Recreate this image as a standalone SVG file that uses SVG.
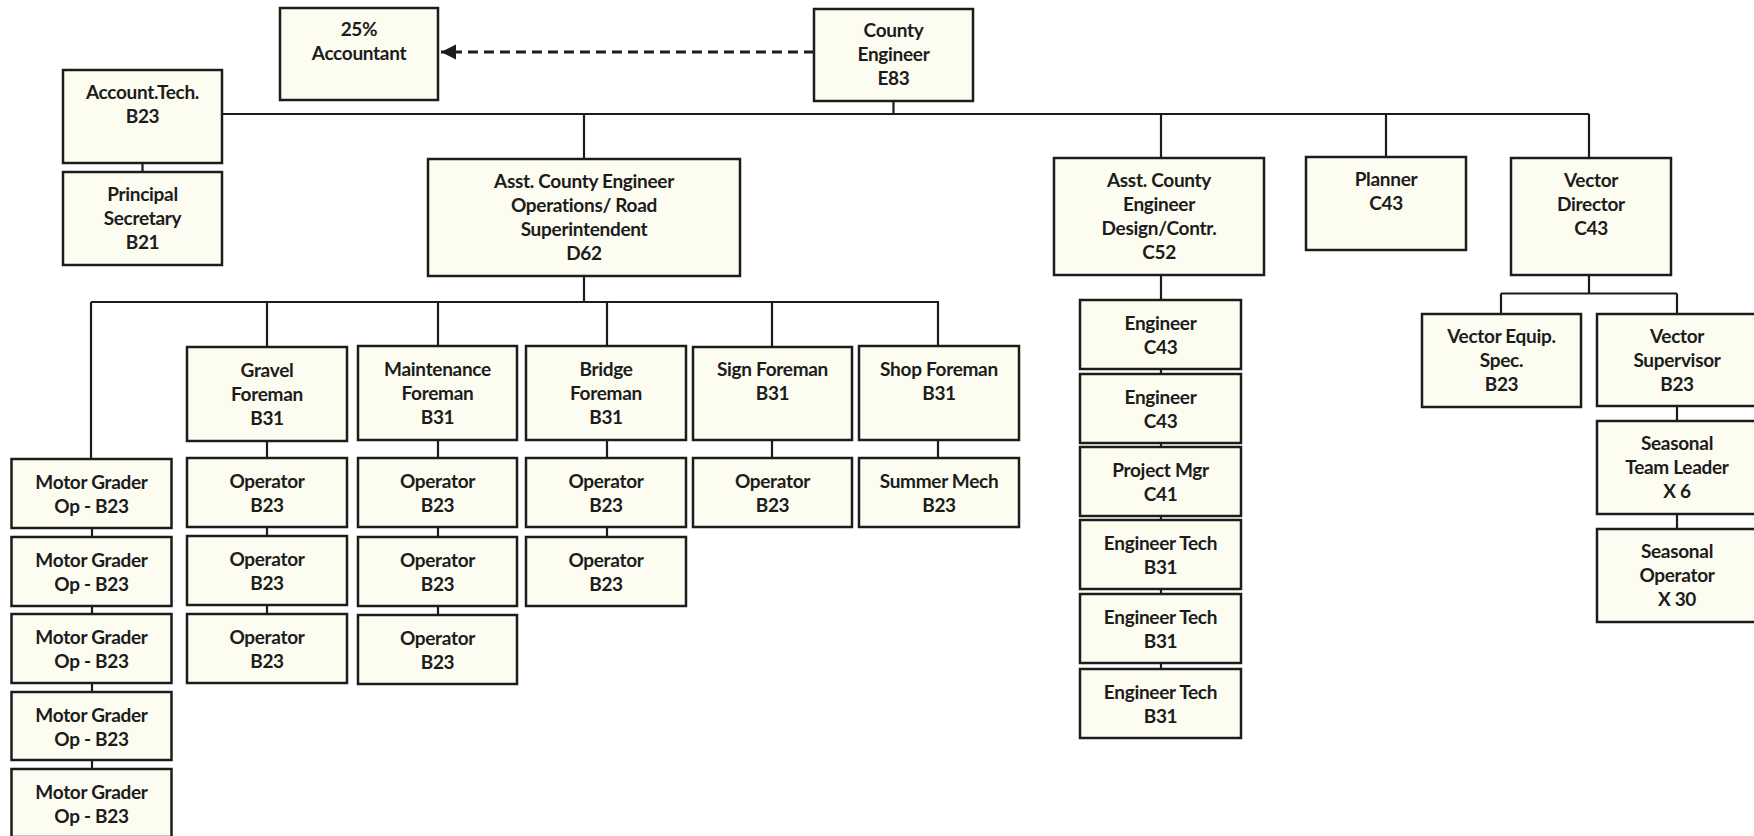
<svg xmlns="http://www.w3.org/2000/svg" width="1754" height="836" viewBox="0 0 1754 836">
<style>
.box{fill:#FCFCF1;stroke:#1c1c1c;stroke-width:2.5}
.t{font-family:Lato,"Liberation Sans",sans-serif;font-weight:bold;font-size:19px;letter-spacing:-0.3px;text-anchor:middle;fill:#1c1c1c}
.ln{fill:none;stroke:#1c1c1c;stroke-width:2.2}
.dash{fill:none;stroke:#1c1c1c;stroke-width:3;stroke-dasharray:10 6}
</style>
<defs>
<marker id="ah" viewBox="0 0 10 10" refX="10" refY="5" markerWidth="5" markerHeight="5.4" orient="auto" markerUnits="strokeWidth">
<path d="M0 0L10 5L0 10Z" fill="#1c1c1c"/>
</marker>
</defs>
<rect width="1754" height="836" fill="#ffffff"/>
<g id="connectors">
<path class="ln" d="M893.5 101V114M222 114H1589M584 114V159M1161 114V158M1386 114V157M1589 114V158"/>
<path class="ln" d="M142.5 163V172"/>
<path class="dash" d="M814 52H441" marker-end="url(#ah)"/>
<path class="ln" d="M584 276V302M91 302H939M91 302V459M267 302V347M438 302V346M607 302V346M772 302V347M938 302V346"/>
<path class="ln" d="M92 528V537M92 606V614M92 683V692M92 760V769"/>
<path class="ln" d="M267 441V458M267 527V536M267 605V614"/>
<path class="ln" d="M438 440V458M438 527V537M438 606V615"/>
<path class="ln" d="M607 440V458M607 527V537"/>
<path class="ln" d="M772 440V458M938 440V458"/>
<path class="ln" d="M1161 275V300M1161 369V374M1161 443V447M1161 516V520M1161 589V594M1161 663V669"/>
<path class="ln" d="M1589 275V293.5M1501 293.5H1677M1501 293.5V314M1677 293.5V314M1677 406V421M1677 514V529"/>
</g>
<g id="county-engineer"><rect class="box" x="814" y="9" width="159" height="92"/><text class="t" x="893.5" y="37">County</text><text class="t" x="893.5" y="61">Engineer</text><text class="t" x="893.5" y="85">E83</text></g>
<g id="accountant"><rect class="box" x="280" y="8" width="158" height="92"/><text class="t" x="359" y="36">25%</text><text class="t" x="359" y="60">Accountant</text></g>
<g id="account-tech"><rect class="box" x="63" y="70" width="159" height="93"/><text class="t" x="142.5" y="99">Account.Tech.</text><text class="t" x="142.5" y="123">B23</text></g>
<g id="principal-secretary"><rect class="box" x="63" y="172" width="159" height="93"/><text class="t" x="142.5" y="201">Principal</text><text class="t" x="142.5" y="225">Secretary</text><text class="t" x="142.5" y="249">B21</text></g>
<g id="asst-ops"><rect class="box" x="428" y="159" width="312" height="117"/><text class="t" x="584" y="188">Asst. County Engineer</text><text class="t" x="584" y="212">Operations/ Road</text><text class="t" x="584" y="236">Superintendent</text><text class="t" x="584" y="260">D62</text></g>
<g id="asst-design"><rect class="box" x="1054" y="158" width="210" height="117"/><text class="t" x="1159" y="187">Asst. County</text><text class="t" x="1159" y="211">Engineer</text><text class="t" x="1159" y="235">Design/Contr.</text><text class="t" x="1159" y="259">C52</text></g>
<g id="planner"><rect class="box" x="1306" y="157" width="160" height="93"/><text class="t" x="1386" y="186">Planner</text><text class="t" x="1386" y="210">C43</text></g>
<g id="vector-director"><rect class="box" x="1511" y="158" width="160" height="117"/><text class="t" x="1591" y="187">Vector</text><text class="t" x="1591" y="211">Director</text><text class="t" x="1591" y="235">C43</text></g>
<g id="mg1"><rect class="box" x="11.5" y="459" width="160" height="69"/><text class="t" x="91.5" y="489">Motor Grader</text><text class="t" x="91.5" y="513">Op - B23</text></g>
<g id="mg2"><rect class="box" x="11.5" y="537" width="160" height="69"/><text class="t" x="91.5" y="567">Motor Grader</text><text class="t" x="91.5" y="591">Op - B23</text></g>
<g id="mg3"><rect class="box" x="11.5" y="614" width="160" height="69"/><text class="t" x="91.5" y="644">Motor Grader</text><text class="t" x="91.5" y="668">Op - B23</text></g>
<g id="mg4"><rect class="box" x="11.5" y="692" width="160" height="68"/><text class="t" x="91.5" y="722">Motor Grader</text><text class="t" x="91.5" y="746">Op - B23</text></g>
<g id="mg5"><rect class="box" x="11.5" y="769" width="160" height="68"/><text class="t" x="91.5" y="799">Motor Grader</text><text class="t" x="91.5" y="823">Op - B23</text></g>
<g id="gravel-foreman"><rect class="box" x="187" y="347" width="160" height="94"/><text class="t" x="267" y="377">Gravel</text><text class="t" x="267" y="401">Foreman</text><text class="t" x="267" y="425">B31</text></g>
<g id="gravel-op1"><rect class="box" x="187" y="458" width="160" height="69"/><text class="t" x="267" y="488">Operator</text><text class="t" x="267" y="512">B23</text></g>
<g id="gravel-op2"><rect class="box" x="187" y="536" width="160" height="69"/><text class="t" x="267" y="566">Operator</text><text class="t" x="267" y="590">B23</text></g>
<g id="gravel-op3"><rect class="box" x="187" y="614" width="160" height="69"/><text class="t" x="267" y="644">Operator</text><text class="t" x="267" y="668">B23</text></g>
<g id="maintenance-foreman"><rect class="box" x="358" y="346" width="159" height="94"/><text class="t" x="437.5" y="376">Maintenance</text><text class="t" x="437.5" y="400">Foreman</text><text class="t" x="437.5" y="424">B31</text></g>
<g id="maint-op1"><rect class="box" x="358" y="458" width="159" height="69"/><text class="t" x="437.5" y="488">Operator</text><text class="t" x="437.5" y="512">B23</text></g>
<g id="maint-op2"><rect class="box" x="358" y="537" width="159" height="69"/><text class="t" x="437.5" y="567">Operator</text><text class="t" x="437.5" y="591">B23</text></g>
<g id="maint-op3"><rect class="box" x="358" y="615" width="159" height="69"/><text class="t" x="437.5" y="645">Operator</text><text class="t" x="437.5" y="669">B23</text></g>
<g id="bridge-foreman"><rect class="box" x="526" y="346" width="160" height="94"/><text class="t" x="606" y="376">Bridge</text><text class="t" x="606" y="400">Foreman</text><text class="t" x="606" y="424">B31</text></g>
<g id="bridge-op1"><rect class="box" x="526" y="458" width="160" height="69"/><text class="t" x="606" y="488">Operator</text><text class="t" x="606" y="512">B23</text></g>
<g id="bridge-op2"><rect class="box" x="526" y="537" width="160" height="69"/><text class="t" x="606" y="567">Operator</text><text class="t" x="606" y="591">B23</text></g>
<g id="sign-foreman"><rect class="box" x="693" y="347" width="159" height="93"/><text class="t" x="772.5" y="376">Sign Foreman</text><text class="t" x="772.5" y="400">B31</text></g>
<g id="sign-op1"><rect class="box" x="693" y="458" width="159" height="69"/><text class="t" x="772.5" y="488">Operator</text><text class="t" x="772.5" y="512">B23</text></g>
<g id="shop-foreman"><rect class="box" x="859" y="346" width="160" height="94"/><text class="t" x="939" y="376">Shop Foreman</text><text class="t" x="939" y="400">B31</text></g>
<g id="summer-mech"><rect class="box" x="859" y="458" width="160" height="69"/><text class="t" x="939" y="488">Summer Mech</text><text class="t" x="939" y="512">B23</text></g>
<g id="design-eng1"><rect class="box" x="1080" y="300" width="161" height="69"/><text class="t" x="1160.5" y="330">Engineer</text><text class="t" x="1160.5" y="354">C43</text></g>
<g id="design-eng2"><rect class="box" x="1080" y="374" width="161" height="69"/><text class="t" x="1160.5" y="404">Engineer</text><text class="t" x="1160.5" y="428">C43</text></g>
<g id="project-mgr"><rect class="box" x="1080" y="447" width="161" height="69"/><text class="t" x="1160.5" y="477">Project Mgr</text><text class="t" x="1160.5" y="501">C41</text></g>
<g id="eng-tech1"><rect class="box" x="1080" y="520" width="161" height="69"/><text class="t" x="1160.5" y="550">Engineer Tech</text><text class="t" x="1160.5" y="574">B31</text></g>
<g id="eng-tech2"><rect class="box" x="1080" y="594" width="161" height="69"/><text class="t" x="1160.5" y="624">Engineer Tech</text><text class="t" x="1160.5" y="648">B31</text></g>
<g id="eng-tech3"><rect class="box" x="1080" y="669" width="161" height="69"/><text class="t" x="1160.5" y="699">Engineer Tech</text><text class="t" x="1160.5" y="723">B31</text></g>
<g id="vector-equip"><rect class="box" x="1422" y="314" width="159" height="93"/><text class="t" x="1501.5" y="343">Vector Equip.</text><text class="t" x="1501.5" y="367">Spec.</text><text class="t" x="1501.5" y="391">B23</text></g>
<g id="vector-supervisor"><rect class="box" x="1597" y="314" width="160" height="92"/><text class="t" x="1677" y="343">Vector</text><text class="t" x="1677" y="367">Supervisor</text><text class="t" x="1677" y="391">B23</text></g>
<g id="seasonal-team-leader"><rect class="box" x="1597" y="421" width="160" height="93"/><text class="t" x="1677" y="450">Seasonal</text><text class="t" x="1677" y="474">Team Leader</text><text class="t" x="1677" y="498">X 6</text></g>
<g id="seasonal-operator"><rect class="box" x="1597" y="529" width="160" height="93"/><text class="t" x="1677" y="558">Seasonal</text><text class="t" x="1677" y="582">Operator</text><text class="t" x="1677" y="606">X 30</text></g>
</svg>
